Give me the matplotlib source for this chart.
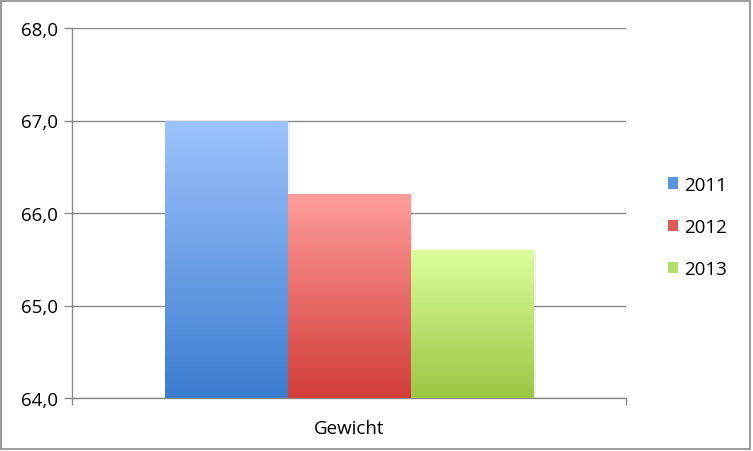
import numpy as np
import matplotlib
matplotlib.use("Agg")
import matplotlib.pyplot as plt
from matplotlib.colors import LinearSegmentedColormap
from matplotlib.patches import Rectangle

# Data
category = "Gewicht"
years = ["2011", "2012", "2013"]
values = [67.0, 66.2, 65.6]
# gradient colours per series (top, bottom)
grad_top = ["#9dc3fd", "#ff9d9b", "#dcfd9c"]
grad_bottom = ["#3c7dd0", "#d13c38", "#9bc743"]
legend_colors = ["#5a93e0", "#e05a58", "#b6dc6c"]

plt.rcParams["font.family"] = ["Open Sans", "DejaVu Sans"]

fig = plt.figure(figsize=(7.53, 4.52), dpi=100)
ax = fig.add_axes([72 / 753, 1 - 399 / 452, (626 - 72) / 753, (399 - 29) / 452])

ymin, ymax = 64.0, 68.0
group_width = 369 / 554
bar_w = group_width / len(values)
x0 = 0.5 - group_width / 2

ax.set_xlim(0, 1)
ax.set_ylim(ymin, ymax)

for i, (v, ct, cb) in enumerate(zip(values, grad_top, grad_bottom)):
    left = x0 + i * bar_w
    cmap = LinearSegmentedColormap.from_list("g%d" % i, [cb, ct])
    grad = np.linspace(0, 1, 256).reshape(-1, 1)
    # subtle shadow on the right side
    ax.add_patch(Rectangle((left + 0.004, ymin), bar_w, v - ymin,
                           facecolor="#000000", alpha=0.06, edgecolor="none", zorder=2))
    im = ax.imshow(grad, cmap=cmap, aspect="auto", origin="lower",
                   extent=(left, left + bar_w, ymin, v), zorder=3)
    clip = Rectangle((left, ymin), bar_w, v - ymin, transform=ax.transData)
    im.set_clip_path(clip)

ax.set_xlim(0, 1)
ax.set_ylim(ymin, ymax)

yticks = np.arange(64, 68.5, 1.0)
ax.set_yticks(yticks)
ax.set_yticklabels([("%.1f" % t).replace(".", ",") for t in yticks], fontsize=13.5)
ax.yaxis.grid(True, color="#8a8a8a", linewidth=1.0, zorder=1)
ax.set_axisbelow(True)

ax.set_xticks([0, 1])
ax.set_xticklabels(["", ""])
ax.text(0.5, -0.08, category, transform=ax.transAxes, ha="center", va="center",
        fontsize=13.5)

for side in ["top", "right"]:
    ax.spines[side].set_visible(False)
for side in ["left", "bottom"]:
    ax.spines[side].set_color("#8a8a8a")
    ax.spines[side].set_linewidth(1.0)
ax.tick_params(axis="y", length=6, width=1, color="#8a8a8a", pad=4)
ax.tick_params(axis="x", length=5, width=1, color="#8a8a8a", direction="out")

# legend
handles = [Rectangle((0, 0), 1, 1, facecolor=c, edgecolor="none") for c in legend_colors]
fig.legend(handles, years, loc="center left", bbox_to_anchor=(651 / 753, 1 - 228 / 452),
           frameon=False, fontsize=13.5, handlelength=0.55, handleheight=0.55,
           handletextpad=0.3, labelspacing=1.3)

# outer border
fig.patches.append(Rectangle((1 / 753, 2 / 452), 749 / 753, 448 / 452,
                             transform=fig.transFigure, fill=False,
                             edgecolor="#8a8a8a", linewidth=1.2))

fig.savefig("out.png", dpi=100)
